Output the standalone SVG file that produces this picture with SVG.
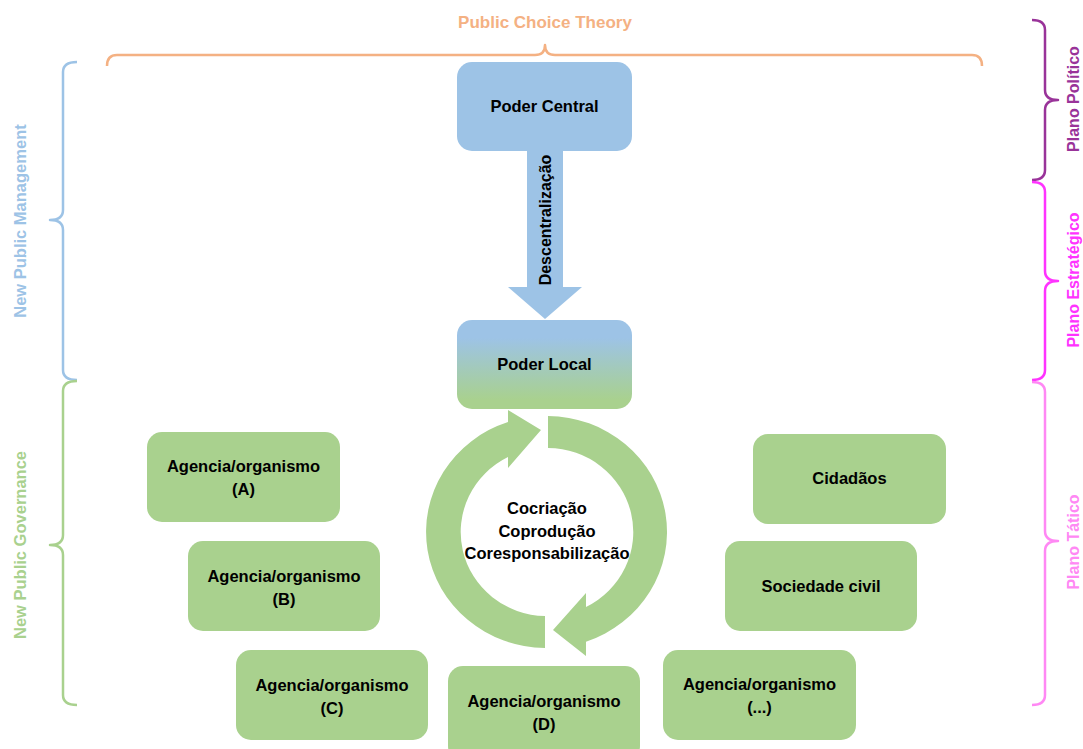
<svg xmlns="http://www.w3.org/2000/svg" width="1083" height="749" viewBox="0 0 1083 749">
<defs>
<linearGradient id="gLocal" x1="0" y1="0" x2="0" y2="1">
<stop offset="0.2" stop-color="#9DC3E6"/>
<stop offset="0.9" stop-color="#A9D18E"/>
</linearGradient>
<style>
text{font-family:"Liberation Sans",Arial,sans-serif;font-weight:bold;}
.lbl{font-size:16.5px;fill:#000;text-anchor:middle;}
.blue{fill:#9DC3E6;}
.green{fill:#A9D18E;}
.brace{fill:none;stroke-width:2.5;stroke-linejoin:round;}
.side{font-size:16.5px;text-anchor:middle;}
.plano{font-size:16px;text-anchor:middle;}
</style>
</defs>
<rect width="1083" height="749" fill="#fff"/>

<g id="braces">
<path class="brace" stroke="#F4B183" d="M107,66 Q107,55 117,55 L535,55 Q545,55 545,45 Q545,55 555,55 L972,55 Q982,55 982,66"/>
<text class="side" style="font-size:17px" x="545" y="28" fill="#F4B183">Public Choice Theory</text>
<path class="brace" stroke="#9DC3E6" d="M77,62 Q63,62 63,72 L63,210 Q63,220 50,220 Q63,220 63,230 L63,370 Q63,380 77,380"/>
<text class="side" transform="translate(26,221) rotate(-90)" fill="#9DC3E6">New Public Management</text>
<path class="brace" stroke="#A9D18E" d="M77,381 Q63,381 63,391 L63,535 Q63,545 50,545 Q63,545 63,555 L63,695 Q63,705 77,705"/>
<text class="side" transform="translate(26,545) rotate(-90)" fill="#A9D18E">New Public Governance</text>
<path class="brace" stroke="#993399" d="M1032,20 Q1045,20 1045,30 L1045,90 Q1045,100 1058,100 Q1045,100 1045,110 L1045,170 Q1045,180 1032,180"/>
<text class="plano" transform="translate(1079,99) rotate(-90)" fill="#993399">Plano Político</text>
<path class="brace" stroke="#FF33FF" d="M1032,182 Q1045,182 1045,192 L1045,271 Q1045,281 1058,281 Q1045,281 1045,291 L1045,370 Q1045,380 1032,380"/>
<text class="plano" transform="translate(1079,280) rotate(-90)" fill="#FF33FF">Plano Estratégico</text>
<path class="brace" stroke="#FF88F4" d="M1032,382 Q1045,382 1045,392 L1045,531 Q1045,541 1058,541 Q1045,541 1045,551 L1045,695 Q1045,705 1032,705"/>
<text class="plano" transform="translate(1079,542) rotate(-90)" fill="#FF88F4">Plano Tático</text>
</g>

<g id="connectors">
<polygon id="arrow-descentralizacao" class="blue" points="527,151 563,151 563,287 582,287 545,319 508,287 527,287"/>
<text class="lbl" style="font-size:16px" transform="translate(551,220) rotate(-90)">Descentralização</text>
<path id="cycle-left" class="green" d="M545,648 A120 116 0 0 1 508,422 L508,410 L541,430 L508,468 L508,457 A86 84 0 0 0 545,616 Z"/>
<path id="cycle-right" class="green" d="M548,416 A120 116 0 0 1 586,641.7 L586,656 L553,630 L586,593 L586,607 A86 84 0 0 0 548,448 Z"/>
</g>

<g id="poder-central">
<rect class="blue" x="457" y="62" width="175" height="89" rx="15"/>
<text class="lbl" x="544.5" y="112">Poder Central</text>
</g>
<g id="poder-local">
<rect fill="url(#gLocal)" x="457" y="320" width="175" height="89" rx="15"/>
<text class="lbl" x="544.5" y="370">Poder Local</text>
</g>
<g id="ciclo">
<text class="lbl" x="547" y="514">Cocriação</text>
<text class="lbl" x="547" y="537">Coprodução</text>
<text class="lbl" x="547" y="559">Coresponsabilização</text>
</g>
<g id="agencia-a">
<rect class="green" x="147" y="432" width="193" height="90" rx="15"/>
<text class="lbl" x="243.5" y="472">Agencia/organismo</text>
<text class="lbl" x="243.5" y="495">(A)</text>
</g>
<g id="agencia-b">
<rect class="green" x="188" y="541" width="192" height="90" rx="15"/>
<text class="lbl" x="284" y="582">Agencia/organismo</text>
<text class="lbl" x="284" y="605">(B)</text>
</g>
<g id="agencia-c">
<rect class="green" x="236" y="650" width="192" height="90" rx="15"/>
<text class="lbl" x="332" y="691">Agencia/organismo</text>
<text class="lbl" x="332" y="714">(C)</text>
</g>
<g id="agencia-d">
<rect class="green" x="448" y="666" width="192" height="95" rx="15"/>
<text class="lbl" x="544" y="707">Agencia/organismo</text>
<text class="lbl" x="544" y="730">(D)</text>
</g>
<g id="agencia-etc">
<rect class="green" x="663" y="650" width="193" height="90" rx="15"/>
<text class="lbl" x="759.5" y="690">Agencia/organismo</text>
<text class="lbl" x="759.5" y="713">(...)</text>
</g>
<g id="cidadaos">
<rect class="green" x="753" y="434" width="193" height="90" rx="15"/>
<text class="lbl" x="849.5" y="484">Cidadãos</text>
</g>
<g id="sociedade-civil">
<rect class="green" x="725" y="541" width="192" height="90" rx="15"/>
<text class="lbl" x="821" y="592">Sociedade civil</text>
</g>
</svg>
